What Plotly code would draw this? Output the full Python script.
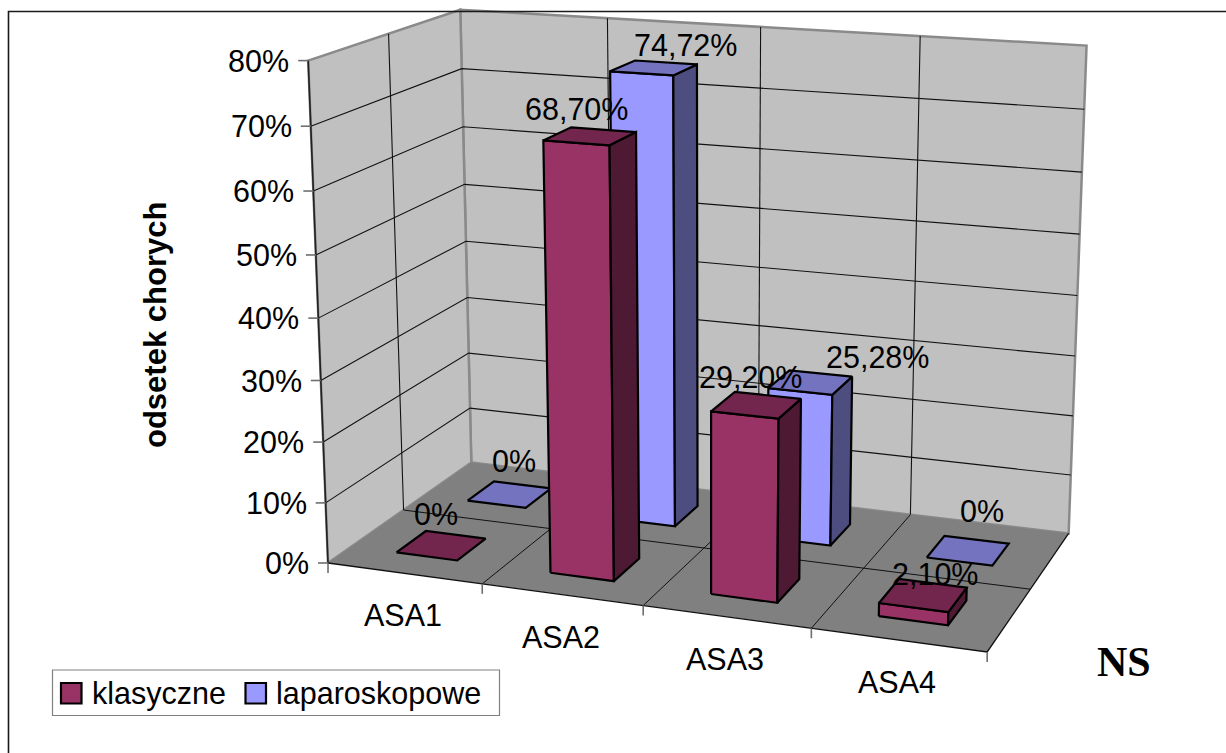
import math
import plotly.graph_objects as go

# ---------------------------------------------------------------- data
CATEGORIES = ["ASA1", "ASA2", "ASA3", "ASA4"]
SERIES_NAMES = ["klasyczne", "laparoskopowe"]
KLASYCZNE = [0.0, 0.6870, 0.2920, 0.0210]
LAPAROSKOPOWE = [0.0, 0.7472, 0.2528, 0.0]
VALUE_TICKS = [0.0, 0.1, 0.2, 0.3, 0.4, 0.5, 0.6, 0.7, 0.8]
VALUE_TICK_LABELS = ["0%", "10%", "20%", "30%", "40%", "50%", "60%", "70%", "80%"]
Y_TITLE = "odsetek chorych"
NOTE_TEXT = "NS"

# ---------------------------------------------------------------- styling
FIG_W, FIG_H = 1226, 753
FONT = "Liberation Sans, Arial, sans-serif"
FONT_SIZE = 30.5

WALL_COLOR = "#c0c0c0"
FLOOR_COLOR = "#808080"
WALL_EDGE = "#8a8a8a"
GRID_COLOR = "#111111"
TICK_COLOR = "#6e6e6e"

FRONT_COLOR = {"klasyczne": "#993366", "laparoskopowe": "#9999ff"}
TOP_COLOR = {"klasyczne": "#73264d", "laparoskopowe": "#7373bf"}
SIDE_COLOR = {"klasyczne": "#4d1933", "laparoskopowe": "#4d4d80"}

BAR_WIDTH = 0.4   # share of a category slot
BAR_DEPTH = 0.4   # share of a series row

# pixel nudges of the data labels relative to the projected bar-top centre
LABEL_SHIFT = {
    "klasyczne": [(-5, -32), (-14, -27), (-6, -28), (12, -21)],
    "laparoskopowe": [(4, -33), (32, -23), (67, -25), (14, -40)],
}

# ---------------------------------------------------------------- 3-D view
# perspective camera: rotation 20 deg, elevation 15 deg
YAW = math.radians(20.0)
PITCH = math.radians(15.0)
FOCAL = 2672.0
CENTER_PX = (711.0, 305.0)
EYE = (7.2083, -13.1873, 5.5594)
Z_SCALE = 3.75  # world height of a value of 1.0

RIGHT = (math.cos(YAW), math.sin(YAW), 0.0)
FWD = (-math.sin(YAW) * math.cos(PITCH), math.cos(YAW) * math.cos(PITCH), -math.sin(PITCH))
UP = (-math.sin(YAW) * math.sin(PITCH), math.cos(YAW) * math.sin(PITCH), math.cos(PITCH))


def project(cat, depth, value):
    """Map (category position, series depth, value) onto the drawing plane."""
    rel = (cat - EYE[0], depth - EYE[1], value * Z_SCALE - EYE[2])
    xc = sum(a * b for a, b in zip(rel, RIGHT))
    yc = sum(a * b for a, b in zip(rel, UP))
    zc = sum(a * b for a, b in zip(rel, FWD))
    return CENTER_PX[0] + FOCAL * xc / zc, CENTER_PX[1] - FOCAL * yc / zc


def polygon(points, fill, line_color=None, line_width=0.0):
    pts = [project(*p) for p in points]
    xs = [p[0] for p in pts] + [pts[0][0]]
    ys = [p[1] for p in pts] + [pts[0][1]]
    return go.Scatter(
        x=xs, y=ys, mode="lines", fill="toself", fillcolor=fill,
        line=dict(color=line_color or fill, width=line_width),
        hoverinfo="skip", showlegend=False,
    )


def polylines(paths, color, width):
    xs, ys = [], []
    for path in paths:
        for p in path:
            px, py = project(*p)
            xs.append(px)
            ys.append(py)
        xs.append(None)
        ys.append(None)
    return go.Scatter(
        x=xs, y=ys, mode="lines", line=dict(color=color, width=width),
        hoverinfo="skip", showlegend=False,
    )


n_cat = len(CATEGORIES)
n_ser = len(SERIES_NAMES)
vmax = VALUE_TICKS[-1]
series_values = {"klasyczne": KLASYCZNE, "laparoskopowe": LAPAROSKOPOWE}

traces = []

# walls
traces.append(polygon([(0, n_ser, 0), (n_cat, n_ser, 0), (n_cat, n_ser, vmax), (0, n_ser, vmax)],
                      WALL_COLOR, WALL_EDGE, 2.5))
traces.append(polygon([(0, 0, 0), (0, n_ser, 0), (0, n_ser, vmax), (0, 0, vmax)],
                      WALL_COLOR, WALL_EDGE, 2.5))

# wall gridlines
wall_grid = [[(0, 0, v), (0, n_ser, v), (n_cat, n_ser, v)] for v in VALUE_TICKS[1:-1]]
wall_grid += [[(i, n_ser, 0), (i, n_ser, vmax)] for i in range(1, n_cat)]
wall_grid += [[(0, j, 0), (0, j, vmax)] for j in range(1, n_ser)]
traces.append(polylines(wall_grid, GRID_COLOR, 1.1))

# floor and its gridlines
traces.append(polygon([(0, 0, 0), (n_cat, 0, 0), (n_cat, n_ser, 0), (0, n_ser, 0)], FLOOR_COLOR))
floor_grid = [[(i, 0, 0), (i, n_ser, 0)] for i in range(1, n_cat)]
floor_grid += [[(0, j, 0), (n_cat, j, 0)] for j in range(1, n_ser)]
traces.append(polylines(floor_grid, GRID_COLOR, 1.0))
traces.append(polylines([[(0, 0, 0), (n_cat, 0, 0), (n_cat, n_ser, 0)]], GRID_COLOR, 1.3))

# value axis line
traces.append(polylines([[(0, 0, 0), (0, 0, vmax)]], "#222222", 1.6))

# tick marks (value axis to the left, category axis downwards)
tx, ty = [], []
for v in VALUE_TICKS:
    px, py = project(0, 0, v)
    tx += [px - 10, px, None]
    ty += [py, py, None]
for i in range(n_cat + 1):
    px, py = project(i, 0, 0)
    tx += [px, px, None]
    ty += [py, py + 10, None]
traces.append(go.Scatter(x=tx, y=ty, mode="lines", line=dict(color=TICK_COLOR, width=1.6),
                         hoverinfo="skip", showlegend=False))

# bars: back row first, each row left to right
annotations = []
for s in reversed(range(n_ser)):
    name = SERIES_NAMES[s]
    vals = series_values[name]
    for i, v in enumerate(vals):
        x0 = i + (1 - BAR_WIDTH) / 2
        x1 = x0 + BAR_WIDTH
        y0 = s + (1 - BAR_DEPTH) / 2
        y1 = y0 + BAR_DEPTH
        if v > 0:
            traces.append(polygon([(x0, y0, 0), (x1, y0, 0), (x1, y0, v), (x0, y0, v)],
                                  FRONT_COLOR[name], "#000000", 2.2))
            traces.append(polygon([(x1, y0, 0), (x1, y1, 0), (x1, y1, v), (x1, y0, v)],
                                  SIDE_COLOR[name], "#000000", 2.2))
        traces.append(polygon([(x0, y0, v), (x1, y0, v), (x1, y1, v), (x0, y1, v)],
                              TOP_COLOR[name], "#000000", 2.2))

# data labels
for s, name in enumerate(SERIES_NAMES):
    for i, v in enumerate(series_values[name]):
        px, py = project(i + 0.5, s + 0.5, v)
        dx, dy = LABEL_SHIFT[name][i]
        text = "0%" if v == 0 else f"{v * 100:.2f}%".replace(".", ",")
        annotations.append(dict(x=px + dx, y=py + dy, text=text, showarrow=False,
                                xanchor="center", yanchor="middle",
                                font=dict(family=FONT, size=FONT_SIZE, color="#000000")))

# value tick labels
for v, lab in zip(VALUE_TICKS, VALUE_TICK_LABELS):
    px, py = project(0, 0, v)
    annotations.append(dict(x=px - 17, y=py, text=lab, showarrow=False,
                            xanchor="right", yanchor="middle",
                            font=dict(family=FONT, size=FONT_SIZE, color="#000000")))

# category labels
for i, cat in enumerate(CATEGORIES):
    px, py = project(i + 0.5, 0, 0)
    annotations.append(dict(x=px - 1, y=py + 42, text=cat, showarrow=False,
                            xanchor="center", yanchor="middle",
                            font=dict(family=FONT, size=FONT_SIZE, color="#000000")))

# axis title and note
annotations.append(dict(x=155, y=325, text=Y_TITLE, showarrow=False, textangle=-90,
                        xanchor="center", yanchor="middle",
                        font=dict(family=FONT, size=31, color="#000000", weight="bold")))
annotations.append(dict(x=1124, y=662, text=NOTE_TEXT, showarrow=False,
                        xanchor="center", yanchor="middle",
                        font=dict(family="Liberation Serif, Times New Roman, serif", size=42,
                                  color="#000000", weight="bold")))

# legend box
shapes = [
    dict(type="rect", x0=8.5, y0=11.5, x1=1400, y1=900, xref="x", yref="y",
         line=dict(color="#1a1a1a", width=1.6), fillcolor="rgba(0,0,0,0)", layer="above"),
    dict(type="rect", x0=52.5, y0=670, x1=499.5, y1=715.5, xref="x", yref="y",
         line=dict(color="#808080", width=1.2), fillcolor="#ffffff", layer="above"),
]
legend_items = [(61, 90), (245.5, 274)]
for (sq_x, txt_x), name in zip(legend_items, SERIES_NAMES):
    shapes.append(dict(type="rect", x0=sq_x, y0=683, x1=sq_x + 20.5, y1=703.5, xref="x", yref="y",
                       line=dict(color="#000000", width=2.2), fillcolor=FRONT_COLOR[name],
                       layer="above"))
    annotations.append(dict(x=txt_x, y=693, text=name, showarrow=False,
                            xanchor="left", yanchor="middle",
                            font=dict(family=FONT, size=FONT_SIZE, color="#000000")))

fig = go.Figure(traces)
fig.update_layout(
    width=FIG_W, height=FIG_H,
    margin=dict(l=0, r=0, t=0, b=0),
    paper_bgcolor="#ffffff", plot_bgcolor="#ffffff",
    xaxis=dict(range=[0, FIG_W], visible=False, fixedrange=True),
    yaxis=dict(range=[FIG_H, 0], visible=False, fixedrange=True),
    shapes=shapes,
    annotations=annotations,
    showlegend=False,
)
fig.write_html("out.html")
